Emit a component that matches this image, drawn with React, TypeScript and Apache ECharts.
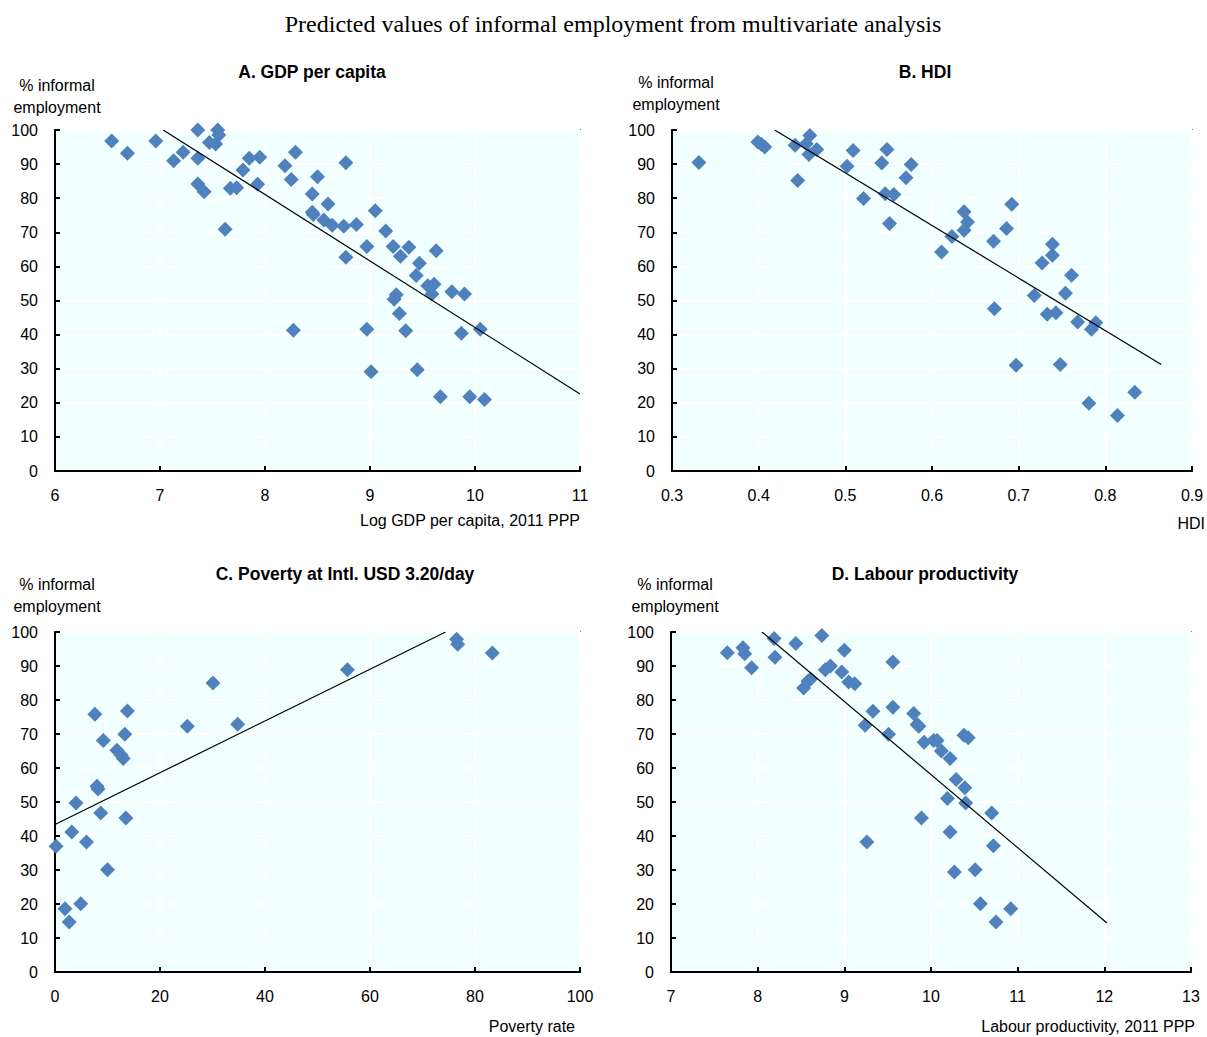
import React, { useEffect, useRef } from "react";
import * as echarts from "echarts";

// Panel A: Log GDP per capita vs % informal employment
const gdpPoints: number[][] = [
  [6.54, 96.8], [6.69, 93.2], [6.96, 96.8], [7.13, 91.0], [7.22, 93.5], [7.36, 100], [7.36, 91.7],
  [7.36, 84.2], [7.42, 81.9], [7.47, 96.3], [7.53, 95.9], [7.55, 100], [7.56, 98.5], [7.62, 70.9],
  [7.67, 82.9], [7.73, 83.1], [7.79, 88.3], [7.85, 91.7], [7.95, 92.0], [7.93, 84.1], [8.19, 89.5],
  [8.25, 85.5], [8.29, 93.5], [8.27, 41.3], [8.77, 90.4], [8.5, 86.3], [8.45, 81.2], [8.6, 78.3],
  [8.45, 75.9], [8.46, 75.2], [8.56, 73.6], [8.64, 72.1], [8.75, 71.8], [8.87, 72.3], [9.05, 76.3],
  [9.15, 70.4], [8.97, 65.8], [9.22, 65.8], [9.37, 65.6], [9.63, 64.6], [8.77, 62.7], [9.29, 63.0],
  [9.47, 60.9], [9.44, 57.3], [9.55, 54.3], [9.61, 54.8], [9.59, 51.9], [9.78, 52.6], [9.9, 51.9],
  [9.25, 51.7], [9.23, 50.4], [9.28, 46.2], [8.97, 41.6], [9.34, 41.1], [9.87, 40.4], [10.05, 41.6],
  [9.01, 29.1], [9.45, 29.7], [9.67, 21.8], [9.95, 21.8], [10.09, 21.0],
];
const gdpTrend: number[][] = [[7.03, 100], [11, 22.6]];

// Panel B: HDI
const hdiPoints: number[][] = [
  [0.331, 90.5], [0.399, 96.5], [0.403, 95.8], [0.407, 95.0], [0.445, 85.2], [0.442, 95.5],
  [0.459, 98.4], [0.455, 96.0], [0.458, 92.8], [0.467, 94.3], [0.502, 89.4], [0.509, 94.0],
  [0.521, 79.9], [0.542, 90.3], [0.548, 94.3], [0.546, 81.3], [0.556, 81.1], [0.551, 72.6],
  [0.57, 86.0], [0.576, 89.9], [0.611, 64.2], [0.623, 68.8], [0.637, 76.0], [0.641, 73.0],
  [0.637, 70.6], [0.671, 67.4], [0.672, 47.6], [0.692, 78.2], [0.686, 71.1], [0.697, 31.0],
  [0.718, 51.5], [0.727, 61.0], [0.739, 66.5], [0.739, 63.3], [0.733, 46.0], [0.743, 46.4],
  [0.748, 31.2], [0.761, 57.4], [0.754, 52.1], [0.768, 43.7], [0.784, 41.6], [0.789, 43.5],
  [0.781, 19.9], [0.814, 16.3], [0.834, 23.1],
];
const hdiTrend: number[][] = [[0.4185, 100], [0.8645, 31.2]];

// Panel C: Poverty at Intl. USD 3.20/day
const povPoints: number[][] = [
  [0.2, 37.0], [1.9, 18.6], [2.7, 14.7], [3.2, 41.2], [4.0, 49.7], [4.9, 20.1], [6.0, 38.2],
  [7.6, 75.8], [8.0, 54.6], [8.2, 53.8], [8.7, 46.8], [9.2, 68.1], [10.0, 30.1], [11.8, 65.2],
  [12.6, 63.8], [13.0, 62.8], [13.3, 69.9], [13.8, 76.8], [13.5, 45.3], [25.2, 72.3], [30.1, 85.0],
  [34.8, 72.9], [55.7, 88.9], [76.5, 97.9], [76.7, 96.4], [83.3, 93.8],
];
const povTrend: number[][] = [[0, 43.4], [74.4, 100]];

// Panel D: Labour productivity
const labPoints: number[][] = [
  [7.65, 93.9], [7.83, 95.4], [7.85, 93.6], [7.93, 89.5], [8.19, 98.1], [8.2, 92.6], [8.44, 96.6],
  [8.74, 99.0], [9.0, 94.6], [8.53, 83.5], [8.58, 85.5], [8.61, 86.2], [8.78, 88.9], [8.84, 90.0],
  [8.97, 88.2], [9.05, 85.3], [9.12, 84.8], [9.56, 91.2], [9.24, 72.6], [9.33, 76.7], [9.51, 69.9],
  [9.56, 77.9], [9.8, 76.0], [9.84, 72.8], [9.86, 72.3], [9.92, 67.6], [9.26, 38.2], [9.89, 45.3],
  [10.03, 68.1], [10.07, 68.1], [10.12, 65.0], [10.22, 62.8], [10.38, 69.6], [10.43, 68.9],
  [10.29, 56.6], [10.39, 54.2], [10.19, 51.0], [10.4, 49.7], [10.7, 46.8], [10.22, 41.2],
  [10.72, 37.1], [10.27, 29.4], [10.51, 30.1], [10.57, 20.1], [10.92, 18.6], [10.75, 14.7],
];
const labTrend: number[][] = [[8.05, 100], [12.03, 14.4]];

const mainTitle = "Predicted values of informal employment from multivariate analysis";
const panelTitles = [
  "A. GDP per capita",
  "B. HDI",
  "C. Poverty at Intl. USD 3.20/day",
  "D. Labour productivity",
];
const xNames = ["Log GDP per capita, 2011 PPP", "HDI", "Poverty rate", "Labour productivity, 2011 PPP"];
const yName = "% informal\nemployment";

const FONT = "Arial, 'Liberation Sans', sans-serif";
const BLUE = "#4F81BD";

export default function App() {
  const ref = useRef<HTMLDivElement>(null);
  useEffect(() => {
    if (!ref.current) return;
    const chart = echarts.init(ref.current, undefined, { renderer: "svg" });

    const grids = [
      { left: 55, top: 130, width: 525, height: 341 },
      { left: 672, top: 130, width: 520, height: 341 },
      { left: 55, top: 632, width: 525, height: 340 },
      { left: 671, top: 632, width: 520, height: 340 },
    ];
    const xCfg = [
      { min: 6, max: 11, interval: 1, fmt: (v: number) => String(Math.round(v)) },
      { min: 0.3, max: 0.9, interval: 0.1, fmt: (v: number) => v.toFixed(1) },
      { min: 0, max: 100, interval: 20, fmt: (v: number) => String(Math.round(v)) },
      { min: 7, max: 13, interval: 1, fmt: (v: number) => String(Math.round(v)) },
    ];
    const pts = [gdpPoints, hdiPoints, povPoints, labPoints];
    const trends = [gdpTrend, hdiTrend, povTrend, labTrend];

    const axisCommon = {
      axisLine: { show: true, onZero: false, lineStyle: { color: "#000", width: 2 } },
      axisTick: { show: true, inside: true, length: 5, lineStyle: { color: "#000", width: 2 } },
      splitLine: { show: true, lineStyle: { color: "#ffffff", width: 2 } },
      axisLabel: { color: "#000", fontSize: 16, fontFamily: FONT, margin: 16 },
    };

    const xAxis = xCfg.map((c, i) => ({
      type: "value",
      gridIndex: i,
      min: c.min,
      max: c.max,
      interval: c.interval,
      ...axisCommon,
      axisLabel: { ...axisCommon.axisLabel, formatter: c.fmt },
    }));
    const yAxis = grids.map((_, i) => ({
      type: "value",
      gridIndex: i,
      min: 0,
      max: 100,
      interval: 10,
      ...axisCommon,
      axisLabel: { ...axisCommon.axisLabel, margin: 17 },
    }));

    const series: any[] = [];
    pts.forEach((p, i) => {
      series.push({
        type: "scatter",
        xAxisIndex: i,
        yAxisIndex: i,
        data: p,
        symbol: "diamond",
        symbolSize: 15,
        clip: false,
        itemStyle: { color: BLUE, opacity: 1 },
        z: 3,
      });
      series.push({
        type: "line",
        xAxisIndex: i,
        yAxisIndex: i,
        data: trends[i],
        symbol: "none",
        lineStyle: { color: "#000", width: 1.2 },
        z: 4,
      });
    });

    const titlePos = [
      [312, 72],
      [925, 72],
      [345, 574],
      [925, 574],
    ];
    const yNamePos = [
      [57, 96],
      [676, 93.5],
      [57, 595.5],
      [675, 595.5],
    ];
    const xNamePos = [
      [580, 520],
      [1205, 523],
      [575, 1026],
      [1195, 1026],
    ];

    const graphic: any[] = [
      {
        type: "text",
        x: 613,
        y: 24,
        style: {
          text: mainTitle,
          fill: "#000",
          font: "24px 'Times New Roman', 'Liberation Serif', serif",
          textAlign: "center",
          textVerticalAlign: "middle",
        },
      },
    ];
    panelTitles.forEach((t, i) => {
      graphic.push({
        type: "text",
        x: titlePos[i][0],
        y: titlePos[i][1],
        style: {
          text: t,
          fill: "#000",
          font: `bold 17.5px ${FONT}`,
          textAlign: "center",
          textVerticalAlign: "middle",
        },
      });
      graphic.push({
        type: "text",
        x: yNamePos[i][0],
        y: yNamePos[i][1],
        style: {
          text: yName,
          fill: "#000",
          font: `16px ${FONT}`,
          lineHeight: 22,
          textAlign: "center",
          textVerticalAlign: "middle",
        },
      });
      graphic.push({
        type: "text",
        x: xNamePos[i][0],
        y: xNamePos[i][1],
        style: {
          text: xNames[i],
          fill: "#000",
          font: `16px ${FONT}`,
          textAlign: "right",
          textVerticalAlign: "middle",
        },
      });
    });

    chart.setOption({
      animation: false,
      backgroundColor: "#ffffff",
      grid: grids.map((g) => ({
        ...g,
        show: true,
        backgroundColor: "#F2FFFF",
        borderColor: "#222",
        borderWidth: 1.5,
        containLabel: false,
      })),
      xAxis,
      yAxis,
      series,
      graphic,
    });
    return () => chart.dispose();
  }, []);

  return (
    <div
      ref={ref}
      style={{ position: "absolute", left: 0, top: 0, width: 1207, height: 1037 }}
    />
  );
}
